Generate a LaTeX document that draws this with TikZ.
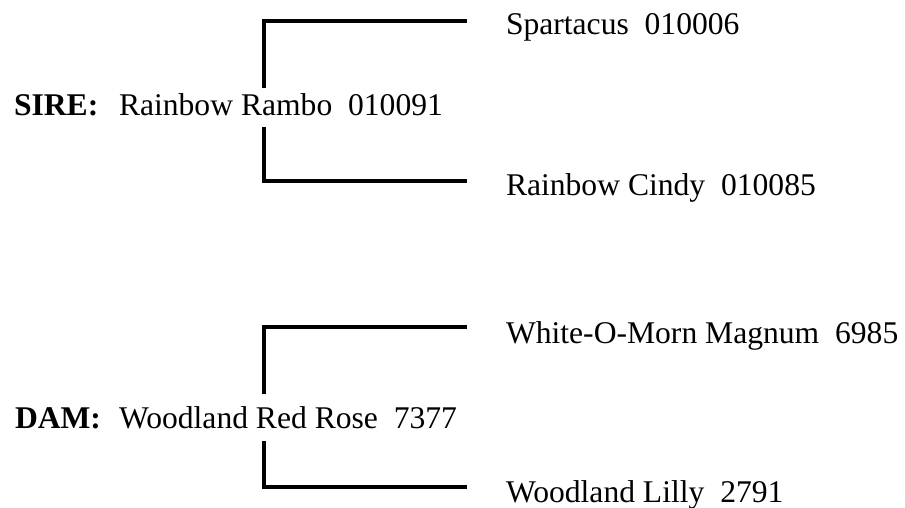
\documentclass[tikz,border=0pt]{standalone}
\usepackage{fontspec}
\setmainfont{Liberation Serif}
\begin{document}
\begin{tikzpicture}[x=1pt,y=-1pt,
  txt/.style={anchor=base west,inner sep=0pt,outer sep=0pt,font=\fontsize{31.6}{38}\selectfont},
  lbl/.style={txt,font=\fontsize{31.6}{38}\selectfont\bfseries},
  bracket/.style={line width=3.3pt,line join=miter,black}]
\useasboundingbox[fill=white] (0,0) rectangle (905,508);
% sire block
\node[lbl] (sirelbl) at (14,116) {SIRE:};
\node[txt] (sire) at (119,116) {Rainbow Rambo~ 010091};
\node[txt] (ss) at (506,35) {Spartacus~ 010006};
\node[txt] (sd) at (506,195) {Rainbow Cindy~ 010085};
\coordinate (sireup) at (264,88);
\coordinate (siredown) at (264,127);
\coordinate (ssend) at (467,21);
\coordinate (sdend) at (467,181);
\draw[bracket] (sireup) |- (ssend);
\draw[bracket] (siredown) |- (sdend);
% dam block
\node[lbl] (damlbl) at (15,428) {DAM:};
\node[txt] (dam) at (119,428) {Woodland Red Rose~ 7377};
\node[txt] (ds) at (506,343) {White-O-Morn Magnum~ 6985};
\node[txt] (dd) at (506,502) {Woodland Lilly~ 2791};
\coordinate (damup) at (264,394);
\coordinate (damdown) at (264,441);
\coordinate (dsend) at (467,327);
\coordinate (ddend) at (467,487);
\draw[bracket] (damup) |- (dsend);
\draw[bracket] (damdown) |- (ddend);
\end{tikzpicture}
\end{document}
